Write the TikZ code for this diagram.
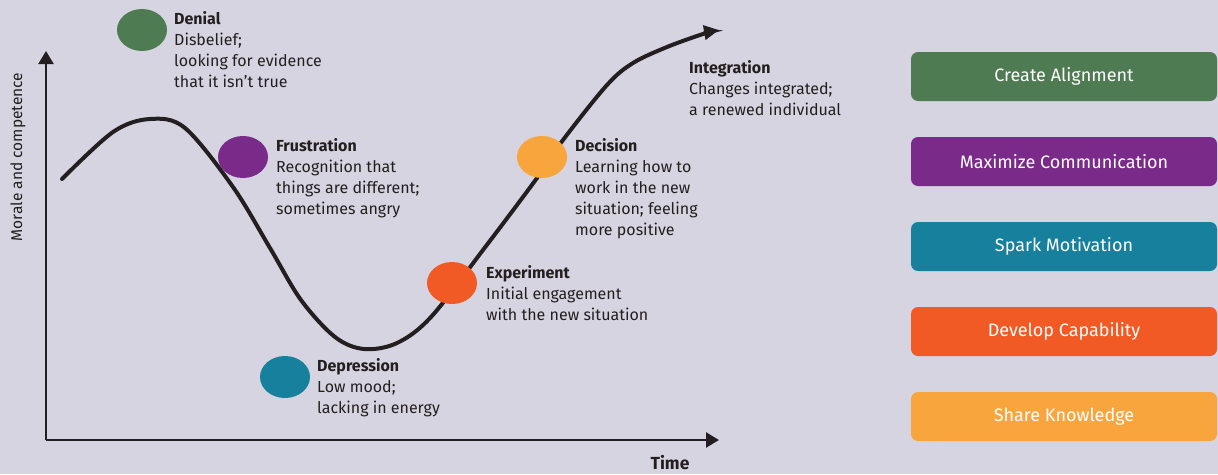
\documentclass[tikz,border=0pt]{standalone}
\usepackage{fontspec}
\setmainfont{Fira Sans}
\usetikzlibrary{shapes.geometric,arrows.meta}
\definecolor{bg}{RGB}{214,212,224}
\definecolor{cgreen}{RGB}{78,123,82}
\definecolor{cpurple}{RGB}{122,42,136}
\definecolor{cteal}{RGB}{23,128,156}
\definecolor{corange}{RGB}{241,90,36}
\definecolor{cyellow}{RGB}{249,165,62}
\definecolor{ink}{RGB}{35,31,32}
\begin{document}
\begin{tikzpicture}[x=1pt,y=-1pt,
  dot/.style={ellipse,minimum width=50pt,minimum height=42pt,inner sep=0pt,draw=none},
  lab/.style={anchor=north west,align=left,inner sep=0pt,text=ink,font=\fontsize{16}{21}\selectfont},
  act/.style={rounded corners=7pt,minimum width=306pt,minimum height=49pt,inner sep=0pt,text=white,font=\fontsize{18}{21}\selectfont},
  axis/.style={line width=2.4pt,draw=ink,-{Triangle[length=13pt,width=15pt]}},
  curve/.style={line width=4pt,draw=ink,line cap=round,-{Triangle[length=15pt,width=14pt]}}]
\fill[bg] (0,0) rectangle (1218,474);
\useasboundingbox (0,0) rectangle (1218,474);
% axes
\coordinate (O) at (46,440);
\coordinate (Ytop) at (46,51);
\coordinate (Xend) at (719,440);
\draw[axis] (O) -- (Ytop);
\draw[axis] (O) -- (Xend);
\node[rotate=90,text=ink,font=\fontsize{15.5}{19}\selectfont] (ylab) at (18,157) {Morale and competence};
\node[text=ink,font=\fontsize{17.5}{19}\selectfont\bfseries] (xlab) at (670,463) {Time};
% curve
\draw[curve] plot[smooth,tension=0.55] coordinates {(62,179) (113,132) (150,119) (185,128) (233,187) (270,248) (301,300) (335,337) (364,349) (397,343) (431,317) (483,250) (537,178) (563,140) (607,85) (633,63) (667,47) (703,34) (719,30)};
% stages
\node[dot,fill=cgreen] (denial) at (142,30) {};
\node[lab] (denialT) at (174,11) {\textbf{Denial}\\Disbelief;\\looking for evidence\\that it isn’t true};
\node[dot,fill=cpurple] (frus) at (243,157) {};
\node[lab] (frusT) at (276,138) {\textbf{Frustration}\\Recognition that\\things are different;\\sometimes angry};
\node[dot,fill=cteal] (depr) at (285,377) {};
\node[lab] (deprT) at (317,358) {\textbf{Depression}\\Low mood;\\lacking in energy};
\node[dot,fill=corange] (exper) at (452,283) {};
\node[lab] (experT) at (486,265) {\textbf{Experiment}\\Initial engagement\\with the new situation};
\node[dot,fill=cyellow] (dec) at (542,157) {};
\node[lab] (decT) at (575,138) {\textbf{Decision}\\Learning how to\\work in the new\\situation; feeling\\more positive};
\node[lab] (integT) at (689,60) {\textbf{Integration}\\Changes integrated;\\a renewed individual};
% action boxes
\node[act,fill=cgreen] (b1) at (1064,76.5) {Create Alignment};
\node[act,fill=cpurple] (b2) at (1064,161.5) {Maximize Communication};
\node[act,fill=cteal] (b3) at (1064,246.5) {Spark Motivation};
\node[act,fill=corange] (b4) at (1064,331.5) {Develop Capability};
\node[act,fill=cyellow] (b5) at (1064,416.5) {Share Knowledge};
\end{tikzpicture}
\end{document}
